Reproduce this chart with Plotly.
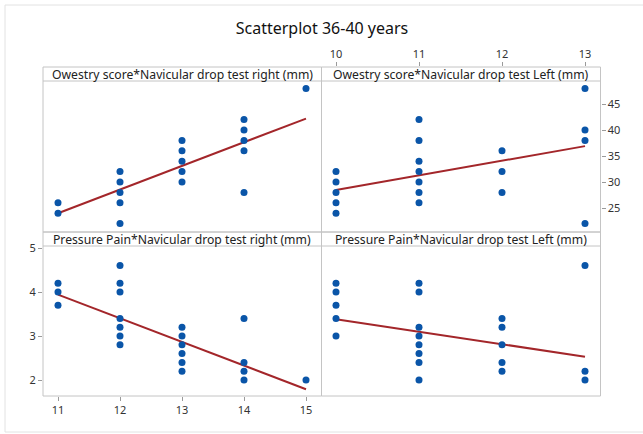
import plotly.graph_objects as go

W, H = 643, 434

# ---------------- data ----------------
# Owestry score vs Navicular drop test right (mm)
ow_r_x = [11, 11, 12, 12, 12, 12, 12, 13, 13, 13, 13, 13, 14, 14, 14, 14, 14, 15]
ow_r_y = [26, 24, 32, 30, 28, 26, 22, 38, 36, 34, 32, 30, 42, 40, 38, 36, 28, 48]
ow_r_fit_x = [11, 15]
ow_r_fit_y = [24.0, 42.2]

# Owestry score vs Navicular drop test Left (mm)
ow_l_x = [10, 10, 10, 10, 10, 11, 11, 11, 11, 11, 11, 11, 12, 12, 12, 13, 13, 13, 13]
ow_l_y = [32, 30, 28, 26, 24, 42, 38, 34, 32, 30, 28, 26, 36, 32, 28, 48, 40, 38, 22]
ow_l_fit_x = [10, 13]
ow_l_fit_y = [28.45, 36.9]

# Pressure Pain vs Navicular drop test right (mm)
pp_r_x = [11, 11, 11, 12, 12, 12, 12, 12, 12, 12, 13, 13, 13, 13, 13, 13, 14, 14, 14, 14, 15]
pp_r_y = [4.2, 4.0, 3.7, 4.6, 4.2, 4.0, 3.4, 3.2, 3.0, 2.8, 3.2, 3.0, 2.8, 2.6, 2.4, 2.2, 3.4, 2.4, 2.2, 2.0, 2.0]
pp_r_fit_x = [11, 15]
pp_r_fit_y = [3.94, 1.79]

# Pressure Pain vs Navicular drop test Left (mm)
pp_l_x = [10, 10, 10, 10, 10, 11, 11, 11, 11, 11, 11, 11, 11, 12, 12, 12, 12, 12, 13, 13, 13]
pp_l_y = [4.2, 4.0, 3.7, 3.4, 3.0, 4.2, 4.0, 3.2, 3.0, 2.8, 2.6, 2.4, 2.0, 3.4, 3.2, 2.8, 2.4, 2.2, 4.6, 2.2, 2.0]
pp_l_fit_x = [10, 13]
pp_l_fit_y = [3.38, 2.53]

strip_titles = [
    "Owestry score*Navicular drop test right (mm)",
    "Owestry score*Navicular drop test Left (mm)",
    "Pressure Pain*Navicular drop test right (mm)",
    "Pressure Pain*Navicular drop test Left (mm)",
]
title_text = "Scatterplot 36-40 years"

# ---------------- layout geometry (pixels) ----------------
def fx(px):
    return px / W

def fy(py):
    return 1 - py / H

LX0, MX, RX1 = 43, 321.5, 600.5
TY0, MY, BY1 = 67, 232, 396
STRIP = 14

DOT = "#0a55a8"
LINE = "#a3262a"
FONT = "Noto Sans"

fig = go.Figure()

panels = [
    (ow_r_x, ow_r_y, ow_r_fit_x, ow_r_fit_y, "x", "y"),
    (ow_l_x, ow_l_y, ow_l_fit_x, ow_l_fit_y, "x2", "y2"),
    (pp_r_x, pp_r_y, pp_r_fit_x, pp_r_fit_y, "x3", "y3"),
    (pp_l_x, pp_l_y, pp_l_fit_x, pp_l_fit_y, "x4", "y4"),
]
for xs, ys, fxs, fys, xa, ya in panels:
    fig.add_trace(go.Scatter(x=fxs, y=fys, mode="lines", xaxis=xa, yaxis=ya,
                             line=dict(color=LINE, width=2), showlegend=False, hoverinfo="skip"))
    fig.add_trace(go.Scatter(x=xs, y=ys, mode="markers", xaxis=xa, yaxis=ya,
                             marker=dict(color=DOT, size=7), showlegend=False))

left_xr = [11 - (58 - LX0) / 62, 15 + (MX - 306) / 62]
right_xr = [10 - (336 - MX) / 83, 13 + (RX1 - 585) / 83]
top_yr = [25 - (MY - 208) / 5.2, 45 + (104 - TY0) / 5.2]
bot_yr = [2 - (BY1 - 380) / 44, 5 + (248 - MY) / 44]

tickfont = dict(family=FONT, size=11, color="#333333")
base = dict(showgrid=False, zeroline=False, showline=False, ticks="outside",
            ticklen=4, tickcolor="#9a9a9a", tickfont=tickfont)
hidden = dict(showgrid=False, zeroline=False, showline=False, showticklabels=False, ticks="")

fig.update_layout(
    xaxis=dict(domain=[fx(LX0), fx(MX)], range=left_xr, anchor="y", **hidden),
    yaxis=dict(domain=[fy(MY), fy(TY0)], range=top_yr, anchor="x", **hidden),
    xaxis2=dict(domain=[fx(MX), fx(RX1)], range=right_xr, anchor="y2", side="top",
                tickvals=[10, 11, 12, 13], **base),
    yaxis2=dict(domain=[fy(MY), fy(TY0)], range=top_yr, anchor="x2", side="right",
                tickvals=[25, 30, 35, 40, 45], **base),
    xaxis3=dict(domain=[fx(LX0), fx(MX)], range=left_xr, anchor="y3",
                tickvals=[11, 12, 13, 14, 15], **base),
    yaxis3=dict(domain=[fy(BY1), fy(MY)], range=bot_yr, anchor="x3",
                tickvals=[2, 3, 4, 5], **base),
    xaxis4=dict(domain=[fx(MX), fx(RX1)], range=right_xr, anchor="y4", **hidden),
    yaxis4=dict(domain=[fy(BY1), fy(MY)], range=bot_yr, anchor="x4", **hidden),
    width=W, height=H,
    margin=dict(l=0, r=0, t=0, b=0),
    paper_bgcolor="white", plot_bgcolor="white",
    title=dict(text=title_text, x=fx(322), xanchor="center", y=fy(28), yanchor="middle",
               font=dict(family=FONT, size=16, color="#111111")),
)

shapes = []
BORDER = "#c4c4c4"
# outer frame
shapes.append(dict(type="rect", xref="paper", yref="paper", x0=fx(5), x1=fx(660), y0=fy(5), y1=fy(432),
                   line=dict(color="#e2e2e2", width=1), fillcolor="rgba(0,0,0,0)", layer="below"))
# panel borders and strip lines
for (x0, x1) in [(LX0, MX), (MX, RX1)]:
    for (y0, y1) in [(TY0, MY), (MY, BY1)]:
        shapes.append(dict(type="rect", xref="paper", yref="paper", x0=fx(x0), x1=fx(x1),
                           y0=fy(y1), y1=fy(y0), line=dict(color=BORDER, width=1),
                           fillcolor="rgba(0,0,0,0)"))
        shapes.append(dict(type="line", xref="paper", yref="paper", x0=fx(x0), x1=fx(x1),
                           y0=fy(y0 + STRIP), y1=fy(y0 + STRIP), line=dict(color=BORDER, width=1)))
fig.update_layout(shapes=shapes)

annotations = []
centers = [((LX0 + MX) / 2, TY0), ((MX + RX1) / 2, TY0), ((LX0 + MX) / 2, MY), ((MX + RX1) / 2, MY)]
for text, (cx, top) in zip(strip_titles, centers):
    annotations.append(dict(text=text, xref="paper", yref="paper", x=fx(cx), y=fy(top + STRIP / 2 + 0.5),
                            xanchor="center", yanchor="middle", showarrow=False,
                            font=dict(family=FONT, size=12.2, color="#222222")))
fig.update_layout(annotations=annotations)

fig.write_html("out.html", config={"displayModeBar": False},
               post_script="document.body.style.margin='0';document.body.style.overflow='hidden';")
